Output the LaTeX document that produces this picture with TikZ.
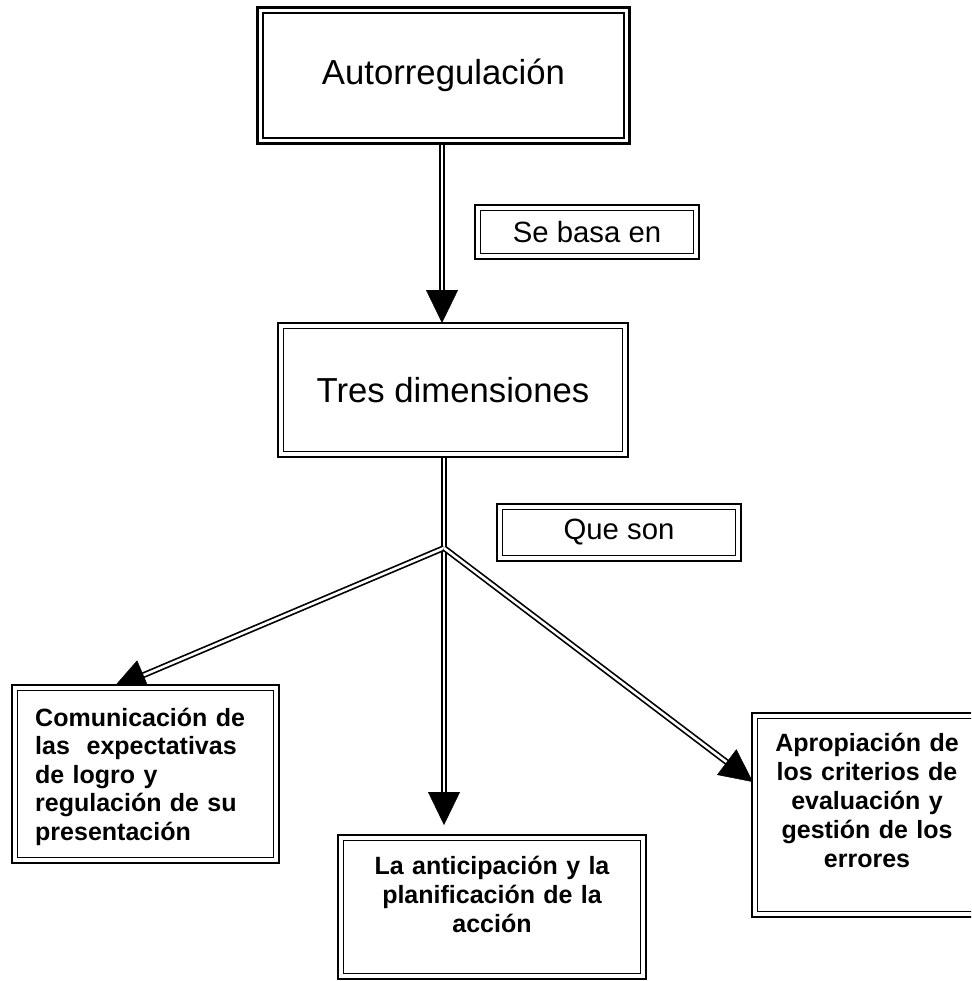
\documentclass[tikz,border=0pt]{standalone}
\usepackage{fontspec}
\setmainfont{Liberation Sans}
\usetikzlibrary{arrows.meta,calc}
\pgfdeclarelayer{bg}
\pgfsetlayers{bg,main}
\tikzset{
  boxframe/.style={draw, line width=2.2pt, fill=white, inner sep=0pt, outer sep=0pt, rectangle},
  conn/.style={draw=black, double=white, line width=1.7pt, double distance=2.6pt},
  arrowhead/.style={-{Triangle[length=33pt,width=32pt]}, line width=0.4pt, draw=black, fill=black},
  bigtext/.style={font=\fontsize{34.7}{40}\selectfont},
  medtext/.style={font=\fontsize{29.3}{34}\selectfont},
  boldtext/.style={font=\fontsize{25}{29}\selectfont\bfseries, inner sep=0pt},
}
\newcommand\innerframe[1]{\draw[line width=1.1pt] ($(#1.north west)+(5.5,5.5)$) rectangle ($(#1.south east)+(-5.5,-5.5)$);}
\begin{document}
\begin{tikzpicture}[x=1pt,y=-1pt]
\useasboundingbox (0,0) rectangle (971,981);
\clip (0,0) rectangle (971,981);
% boxes
\node[boxframe, minimum width=372pt, minimum height=136pt, bigtext] (aut) at (443.5,75.5) {Autorregulación};
\node[boxframe, minimum width=224pt, minimum height=54pt, medtext] (basa) at (587,232) {Se basa en};
\node[boxframe, minimum width=350pt, minimum height=134pt, bigtext] (tres) at (453,390) {Tres dimensiones};
\node[boxframe, minimum width=244pt, minimum height=57pt, medtext] (que) at (619,532.5) {Que son};
\node[boxframe, minimum width=267pt, minimum height=178pt] (com) at (145.5,774) {};
\node[boxframe, minimum width=308pt, minimum height=144pt] (ant) at (492,907) {};
\node[boxframe, minimum width=230pt, minimum height=204pt] (apr) at (867,815) {};
\innerframe{aut}
\innerframe{basa}
\innerframe{tres}
\innerframe{que}
\innerframe{com}
\innerframe{ant}
\innerframe{apr}
% texts
\node[boldtext, font=\fontsize{25}{28.5}\selectfont\bfseries, text width=250pt, align=left, anchor=base west] (comt) at (35,726)
  {Comunicación de\\las~~expectativas\\de logro y\\regulación de su\\presentación};
\node[boldtext, text width=300pt, align=center, anchor=base] (antt) at (492,874)
  {La anticipación y la\\planificación de la\\acción};
\node[boldtext, text width=225pt, align=center, anchor=base] (aprt) at (867,751)
  {Apropiación de\\los criterios de\\evaluación y\\gestión de los\\errores};
% connector points
\coordinate (t1) at (442,323);
\coordinate (J) at (444,548);
\coordinate (tL) at (113,688);
\coordinate (tM) at (444,825);
\coordinate (tR) at (753,782);
\begin{pgfonlayer}{bg}
\draw[conn, shorten >=15pt] (t1 |- aut.south) -- (t1);
\draw[conn, shorten >=15pt] (J |- tres.south) -- (tM);
\draw[conn, shorten >=15pt] (J) -- (tL);
\draw[conn, shorten >=15pt] (J) -- (tR);
\draw[arrowhead] ($(t1)+(0,-33)$) -- (t1);
\draw[arrowhead] ($(tM)+(0,-33)$) -- (tM);
\draw[arrowhead] ($(tL)!33pt!(J)$) -- (tL);
\draw[arrowhead] ($(tR)!33pt!(J)$) -- (tR);
\end{pgfonlayer}
\end{tikzpicture}
\end{document}
